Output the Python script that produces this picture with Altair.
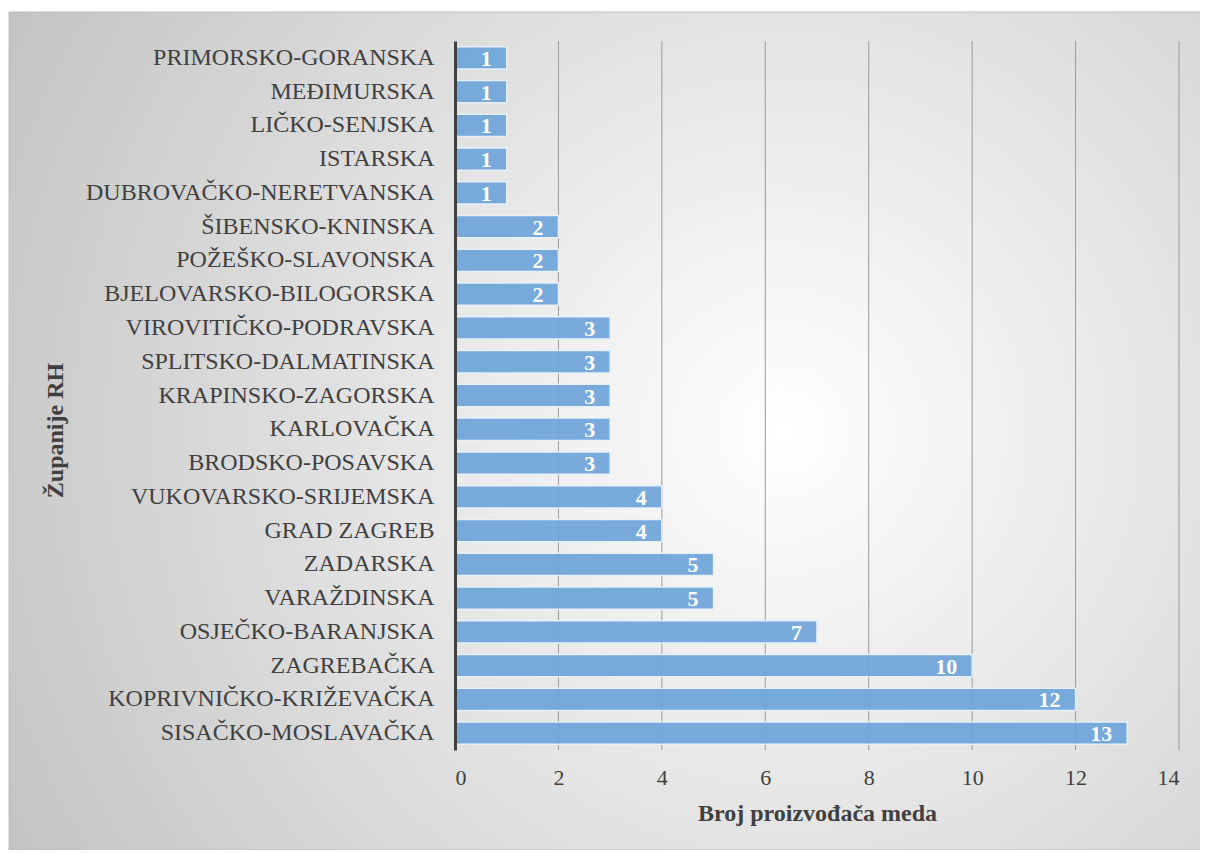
import altair as alt
import pandas as pd

zupanije = [
    "PRIMORSKO-GORANSKA", "MEĐIMURSKA", "LIČKO-SENJSKA", "ISTARSKA",
    "DUBROVAČKO-NERETVANSKA", "ŠIBENSKO-KNINSKA", "POŽEŠKO-SLAVONSKA",
    "BJELOVARSKO-BILOGORSKA", "VIROVITIČKO-PODRAVSKA", "SPLITSKO-DALMATINSKA",
    "KRAPINSKO-ZAGORSKA", "KARLOVAČKA", "BRODSKO-POSAVSKA",
    "VUKOVARSKO-SRIJEMSKA", "GRAD ZAGREB", "ZADARSKA", "VARAŽDINSKA",
    "OSJEČKO-BARANJSKA", "ZAGREBAČKA", "KOPRIVNIČKO-KRIŽEVAČKA",
    "SISAČKO-MOSLAVAČKA",
]
broj = [1, 1, 1, 1, 1, 2, 2, 2, 3, 3, 3, 3, 3, 4, 4, 5, 5, 7, 10, 12, 13]
grid_ticks = [2, 4, 6, 8, 10, 12, 14]

df = pd.DataFrame({"zupanija": zupanije, "broj": broj})
gdf = pd.DataFrame({"t": grid_ticks})
bgdf = pd.DataFrame({"a": [0]})

FONT = "Liberation Serif"
W, H = 724, 709

xscale = alt.Scale(domain=[0, 14], nice=False)

bg = alt.Chart(bgdf).mark_rect(
    color=alt.RadialGradient(
        gradient="radial",
        stops=[alt.GradientStop(offset=0, color="#ffffff"),
               alt.GradientStop(offset=1, color="#c0c0c0")],
        x1=0.63, y1=0.5, r1=0.0, x2=0.63, y2=0.5, r2=0.76,
    ),
    stroke="#bdbdbd", strokeWidth=1,
).encode(
    x=alt.value(-446), x2=alt.value(W + 60),
    y=alt.value(-29), y2=alt.value(H + 100),
)

grid = alt.Chart(gdf).mark_rule(color="#9a9a9a", strokeWidth=1).encode(
    x=alt.X("t:Q", scale=xscale)
)

base = alt.Chart(df).encode(
    y=alt.Y("zupanija:N", sort=zupanije,
            scale=alt.Scale(paddingInner=0.34, paddingOuter=0.17),
            axis=alt.Axis(title="Županije RH", ticks=False, labelPadding=21, labelLimit=0,
                          labelFont=FONT, labelFontSize=24, labelColor="#404040",
                          titleFont=FONT, titleFontSize=24, titleFontWeight="bold",
                          titleColor="#404040", titleX=-400, titleY=389,
                          titleAngle=-90, titleAlign="center", titleBaseline="middle",
                          domainColor="#404040", domainWidth=3, grid=False,
                          zindex=2)),
    x=alt.X("broj:Q", scale=xscale,
            axis=alt.Axis(title="Broj proizvođača meda", values=[0, 2, 4, 6, 8, 10, 12, 14],
                          ticks=False, domain=False, grid=False, labelPadding=17,
                          labelFont=FONT, labelFontSize=22, labelColor="#404040",
                          titleFont=FONT, titleFontSize=24, titleFontWeight="bold",
                          titleColor="#404040", titlePadding=13, zindex=2)),
)

bars = base.mark_bar(color="#6fa6da", opacity=0.93, stroke="#e8f1fa", strokeWidth=1.5)
labels = base.mark_text(align="right", dx=-15, dy=1, baseline="middle", color="white",
                        font=FONT, fontSize=22, fontWeight="bold").encode(
    text=alt.Text("broj:Q"))

chart = alt.layer(bg, grid, bars, labels).properties(
    width=W, height=H,
    autosize=alt.AutoSizeParams(type="none"),
    padding={"left": 447, "top": 33, "right": 21, "bottom": 100},
).configure_view(stroke=None).configure(background="white", font=FONT)

chart.save("out.html", embed_options={"renderer": "svg", "actions": False})
